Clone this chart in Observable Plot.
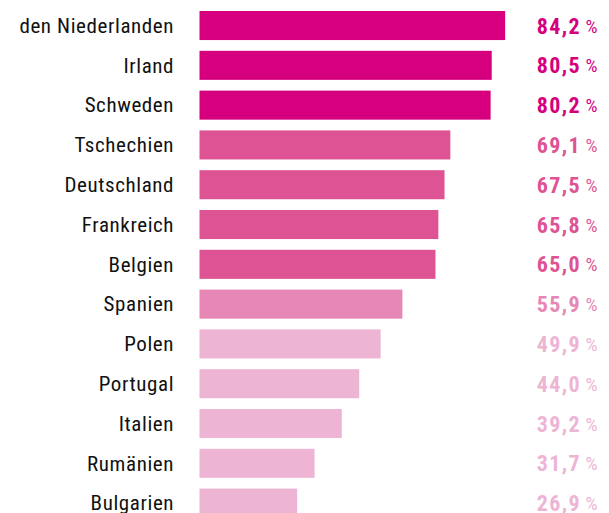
<!DOCTYPE html>
<html>
<head>
<meta charset="utf-8">
<script src="https://cdn.jsdelivr.net/npm/d3@7"></script>
<script src="https://cdn.jsdelivr.net/npm/@observablehq/plot@0.6"></script>
<style>
  html, body { margin: 0; padding: 0; background: #fff; }
  #chart { width: 609px; height: 513px; overflow: hidden; }
  .lbl text { letter-spacing: 0.6px; }
  .num text { letter-spacing: 1.4px; }
</style>
</head>
<body>
<div id="chart"></div>
<script>
const countries = ["den Niederlanden", "Irland", "Schweden", "Tschechien", "Deutschland", "Frankreich", "Belgien", "Spanien", "Polen", "Portugal", "Italien", "Rumänien", "Bulgarien"];
const values = [84.2, 80.5, 80.2, 69.1, 67.5, 65.8, 65.0, 55.9, 49.9, 44.0, 39.2, 31.7, 26.9];
const groups = ["a", "a", "a", "b", "b", "b", "b", "c", "d", "d", "d", "d", "d"];
const groupDomain = ["a", "b", "c", "d"];
const groupColors = ["#d6007e", "#de5394", "#e687b6", "#eeb4d4"];

const data = countries.map((c, i) => ({country: c, value: values[i], group: groups[i]}));
const fmt = v => v.toFixed(1).replace(".", ",");

const labelFont = "'Roboto Condensed', 'Liberation Sans Narrow', 'DejaVu Sans Condensed', sans-serif";

const chart = Plot.plot({
  width: 609,
  height: 513,
  marginLeft: 173,
  marginRight: 12,
  marginTop: 0,
  marginBottom: 0,
  style: {background: "#fff", overflow: "visible"},
  x: {domain: [0, 100], range: [199.5, 562.5], axis: null},
  y: {domain: countries, range: [11, 517.65], paddingInner: 0.27, paddingOuter: 0.0001, align: 0, round: false, axis: null},
  color: {domain: groupDomain, range: groupColors},
  marks: [
    Plot.barX(data, {x: "value", y: "country", fill: "group"}),
    Plot.text(data, {
      y: "country", text: "country", frameAnchor: "left", textAnchor: "end",
      fill: "#111", fontSize: 21, fontFamily: labelFont, dx: 0.6, dy: 0, className: "lbl"
    }),
    Plot.text(data, {
      y: "country", text: d => fmt(d.value), frameAnchor: "right", textAnchor: "end",
      fill: "group", fontSize: 22, fontWeight: "bold", fontFamily: labelFont, dx: -16.5, dy: 0.5, className: "num"
    }),
    Plot.text(data, {
      y: "country", text: d => "%", frameAnchor: "right", textAnchor: "end",
      fill: "group", fontSize: 19, fontFamily: labelFont, dy: 0.5
    })
  ]
});
document.getElementById("chart").appendChild(chart);
</script>
</body>
</html>
